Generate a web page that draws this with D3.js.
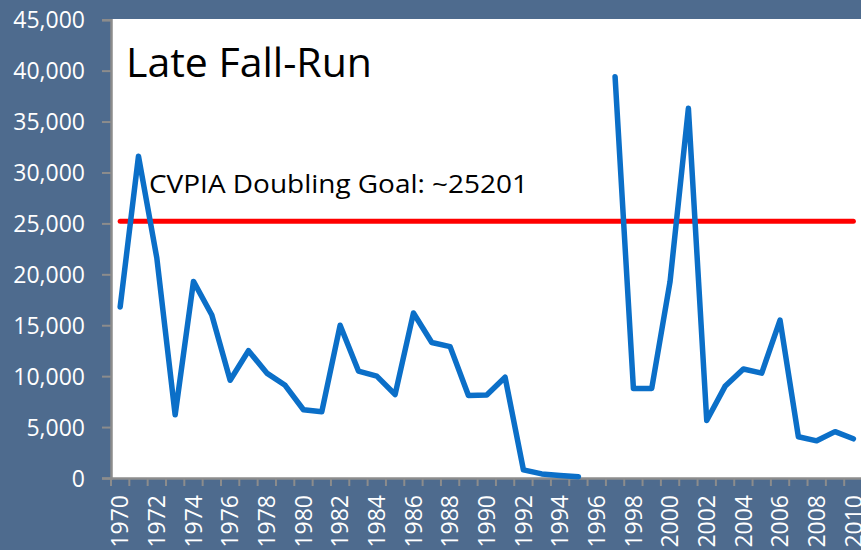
<!DOCTYPE html>
<html>
<head>
<meta charset="utf-8">
<script src="https://cdn.jsdelivr.net/npm/d3@7"></script>
<style>
  body { margin: 0; background: #4e6b8e; }
  svg { display: block; }
  .axis text { fill: #fff; font-family: "Open Sans", sans-serif; font-size: 23px; }
  .axis path, .axis line { stroke: #8c8c8c; }
</style>
</head>
<body>
<div id="chart"></div>
<script>
// annual escapement, 1996 not reported
var years = d3.range(1970, 2011);
var counts = [
  16800, 31600, 21600, 6200, 19300, 16000, 9600, 12500, 10300, 9100,
  6700, 6500, 15000, 10500, 10000, 8200, 16200, 13300, 12900, 8100,
  8150, 9900, 800, 400, 250, 130, null, 39400, 8800, 8800,
  19300, 36300, 5650, 9000, 10700, 10300, 15500, 4050, 3650, 4550,
  3850
];
var goal = 25201;
var yTicks = [0, 5000, 10000, 15000, 20000, 25000, 30000, 35000, 40000, 45000];

var W = 861, H = 550;
var m = { top: 19.7, left: 111, bottom: 72 };
var bandW = 18.33;

var svg = d3.select("#chart").append("svg")
  .attr("width", W)
  .attr("height", H);

var x = d3.scaleBand()
  .domain(years)
  .range([m.left, m.left + years.length * bandW]);

var y = d3.scaleLinear()
  .domain([0, 45000])
  .range([H - m.bottom, m.top]);

// white plot area
svg.append("rect")
  .attr("x", m.left)
  .attr("y", 19)
  .attr("width", W - m.left + 5)
  .attr("height", y(0) - 19)
  .attr("fill", "#fff");

var data = years.map(function(d, i) { return { year: d, v: counts[i] }; });

// y axis
var yAxis = d3.axisLeft(y)
  .tickValues(yTicks)
  .tickSize(9)
  .tickPadding(17)
  .tickFormat(d3.format(","));
var gy = svg.append("g")
  .attr("class", "axis")
  .attr("transform", "translate(" + m.left + ",0)")
  .call(yAxis);
gy.select(".domain").attr("stroke-width", 2.5);
gy.selectAll("line").attr("stroke-width", 2);
gy.selectAll("text").attr("dy", "0.36em");

// x axis, ticks between years
var xAxis = d3.axisBottom(x)
  .tickSizeOuter(0)
  .tickSize(0)
  .tickFormat(function(d) { return d % 2 === 0 ? d : ""; });
var gx = svg.append("g")
  .attr("class", "axis")
  .attr("transform", "translate(0," + y(0) + ")")
  .call(xAxis);
gx.select(".domain").attr("stroke-width", 2.5);
gx.selectAll("text")
  .attr("transform", "rotate(-90)")
  .attr("text-anchor", "end")
  .attr("x", -17)
  .attr("y", 0)
  .attr("dy", "0.36em");
gx.selectAll(".sep")
  .data(years.concat([2011]))
  .enter().append("line")
  .attr("class", "sep")
  .attr("x1", function(d) { return m.left + (d - 1970) * bandW; })
  .attr("x2", function(d) { return m.left + (d - 1970) * bandW; })
  .attr("y1", 0)
  .attr("y2", 8)
  .attr("stroke", "#8c8c8c")
  .attr("stroke-width", 2);

var cx = function(d) { return x(d) + x.bandwidth() / 2; };

// goal line
svg.append("line")
  .attr("x1", cx(1970))
  .attr("x2", cx(2010))
  .attr("y1", y(goal))
  .attr("y2", y(goal))
  .attr("stroke", "#ff0000")
  .attr("stroke-width", 5)
  .attr("stroke-linecap", "round");

// series
var line = d3.line()
  .defined(function(d) { return d.v !== null; })
  .x(function(d) { return cx(d.year); })
  .y(function(d) { return y(d.v); });

svg.append("path")
  .datum(data)
  .attr("d", line)
  .attr("fill", "none")
  .attr("stroke", "#0b6fc8")
  .attr("stroke-width", 5.5)
  .attr("stroke-linejoin", "round")
  .attr("stroke-linecap", "round");

svg.append("text")
  .attr("x", 126)
  .attr("y", 77)
  .attr("font-family", "'Open Sans', sans-serif")
  .attr("font-size", 40)
  .attr("textLength", 246)
  .attr("lengthAdjust", "spacingAndGlyphs")
  .attr("fill", "#000")
  .text("Late Fall-Run");

svg.append("text")
  .attr("x", 149)
  .attr("y", 193)
  .attr("font-family", "'Open Sans', sans-serif")
  .attr("font-size", 25)
  .attr("textLength", 379)
  .attr("lengthAdjust", "spacingAndGlyphs")
  .attr("fill", "#000")
  .text("CVPIA Doubling Goal: ~25201");
</script>
</body>
</html>
